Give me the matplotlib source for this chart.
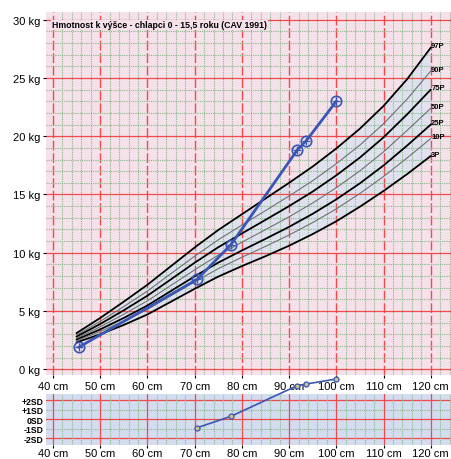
import numpy as np
import matplotlib
matplotlib.use("Agg")
import matplotlib.pyplot as plt
from matplotlib.ticker import MultipleLocator, FuncFormatter

plt.rcParams['font.family'] = ['Liberation Sans', 'DejaVu Sans']

# percentile curves (height cm -> weight kg)
heights = [45, 50, 55, 60, 65, 70, 75, 80, 85, 90, 95, 100, 105, 110, 115, 120]
p97 = [3.1, 4.4, 5.8, 7.25, 8.85, 10.45, 11.95, 13.3, 14.65, 16.0, 17.4, 18.95, 20.65, 22.6, 24.9, 27.6]
p90 = [2.93, 4.11, 5.38, 6.71, 8.21, 9.7, 11.11, 12.37, 13.61, 14.87, 16.18, 17.64, 19.24, 21.07, 23.19, 25.6]
p75 = [2.8, 3.88, 5.06, 6.31, 7.72, 9.14, 10.47, 11.65, 12.82, 14.0, 15.25, 16.64, 18.17, 19.9, 21.88, 24.0]
p50 = [2.67, 3.64, 4.72, 5.87, 7.2, 8.53, 9.79, 10.9, 11.98, 13.08, 14.27, 15.58, 17.03, 18.66, 20.5, 22.4]
p25 = [2.54, 3.42, 4.4, 5.47, 6.72, 7.97, 9.15, 10.19, 11.19, 12.22, 13.34, 14.58, 15.96, 17.49, 19.2, 21.0]
p10 = [2.44, 3.24, 4.14, 5.13, 6.32, 7.5, 8.63, 9.61, 10.54, 11.52, 12.59, 13.76, 15.09, 16.54, 18.14, 19.8]
p3 = [2.3, 3.0, 3.8, 4.7, 5.8, 6.9, 7.95, 8.85, 9.7, 10.6, 11.6, 12.7, 13.95, 15.3, 16.75, 18.3]
pct_labels = ["97P", "90P", "75P", "50P", "25P", "10P", "3P"]

# patient measurements
child_height = [45.5, 70.5, 77.7, 91.7, 93.6, 100.0]
child_weight = [1.9, 7.7, 10.7, 18.8, 19.6, 23.0]
sd_height = [70.5, 77.7, 91.7, 93.6, 100.0]
sd_value = [-0.9, 0.3, 3.5, 3.67, 4.2]
sd_labels = ["+2SD", "+1SD", "0SD", "-1SD", "-2SD"]

title = "Hmotnost k výšce - chlapci 0 - 15,5 roku (CAV 1991)"

W, H = 452, 460
def rect(l, t, r, b):
    return [l / W, 1 - b / H, (r - l) / W, (b - t) / H]

RED = '#f04a4a'
GREEN = '#86b886'
BLUE = '#3a56b4'

fig = plt.figure(figsize=(W / 100, H / 100), dpi=100)
ax = fig.add_axes(rect(45.7, 13.3, 452, 376))
ax2 = fig.add_axes(rect(45.7, 395, 452, 446))

# --- main chart ---
ax.set_facecolor('#f5e1e9')
ax.set_xlim(38.45, 124.5)
ax.set_ylim(-0.5, 30.64)
ax.xaxis.set_major_locator(MultipleLocator(10))
ax.xaxis.set_minor_locator(MultipleLocator(2))
ax.yaxis.set_major_locator(MultipleLocator(5))
ax.yaxis.set_minor_locator(MultipleLocator(1))
ax.xaxis.set_major_formatter(FuncFormatter(lambda v, p: f"{v:.0f} cm"))
ax.yaxis.set_major_formatter(FuncFormatter(lambda v, p: f"{v:.0f} kg"))
ax.set_axisbelow(False)
ax.xaxis.grid(True, which='minor', color=GREEN, lw=0.8, ls=(0, (1, 1)))
ax.yaxis.grid(True, which='minor', color=GREEN, lw=0.8, ls=(0, (1, 1)))
ax.xaxis.grid(True, which='major', color=RED, lw=1.0, ls=(0, (7, 2)))
ax.yaxis.grid(True, which='major', color=RED, lw=0.9, ls='-')
ax.tick_params(which='minor', length=0)
ax.tick_params(which='major', length=2.5, width=0.8, pad=1.5, labelsize=8)
for s in ax.spines.values():
    s.set_visible(False)

ax.fill_between(heights, p3, p97, color='#dfe2ee', lw=0, zorder=1)
curves = [p97, p90, p75, p50, p25, p10, p3]
for i, (c, lab) in enumerate(zip(curves, pct_labels)):
    if i % 2 == 0:
        ax.plot(heights, c, color='black', lw=1.3, zorder=3)
    else:
        ax.plot(heights, c, color='#707070', lw=0.8, zorder=3)
    ax.text(heights[-1] + 0.1, c[-1] + 0.15, lab, fontsize=5.5, fontweight='bold',
            ha='left', va='center', zorder=4)

ax.plot(child_height, child_weight, color=BLUE, lw=2, marker='o', ms=7.5,
        mfc='none', mec=BLUE, mew=1.2, zorder=5)
ax.plot(child_height, child_weight, ls='none', marker='+', ms=6, mec=BLUE,
        mew=0.9, zorder=5)

ax.text(39.8, 29.55, title, fontsize=6.3, fontweight='bold', ha='left', va='center',
        zorder=4, bbox=dict(facecolor='#f5e1e9', edgecolor='none', pad=0.6))

# --- SD panel ---
ax2.set_facecolor('#d4dcef')
ax2.set_xlim(38.45, 124.5)
ax2.set_ylim(-2.7, 2.63)
ax2.xaxis.set_major_locator(MultipleLocator(10))
ax2.xaxis.set_minor_locator(MultipleLocator(2))
ax2.set_yticks([2, 1, 0, -1, -2])
ax2.set_yticklabels(sd_labels)
ax2.xaxis.set_major_formatter(FuncFormatter(lambda v, p: f"{v:.0f} cm"))
ax2.set_axisbelow(False)
ax2.xaxis.grid(True, which='minor', color=GREEN, lw=0.8, ls=(0, (1, 1)))
ax2.xaxis.grid(True, which='major', color=RED, lw=0.9, ls='-')
for v in [2, 1, 0, -1, -2]:
    if v % 2 == 0:
        ax2.axhline(v, color=RED, lw=0.9, zorder=2.5)
    else:
        ax2.axhline(v, color=GREEN, lw=0.8, ls=(0, (1, 1)), zorder=2.5)
ax2.tick_params(which='minor', length=0)
ax2.tick_params(axis='x', which='major', length=2, width=0.8, pad=0.5, labelsize=8)
ax2.tick_params(axis='y', length=0, pad=1.5, labelsize=6.2)
for t in ax2.get_yticklabels():
    t.set_fontweight('bold')
for s in ax2.spines.values():
    s.set_visible(False)

ax2.plot(sd_height, sd_value, color=BLUE, lw=1.2, marker='o', ms=3.6,
         mfc='#c9c48a', mec=BLUE, mew=0.9, zorder=5, clip_on=False)

fig.savefig("out.png", dpi=100)
